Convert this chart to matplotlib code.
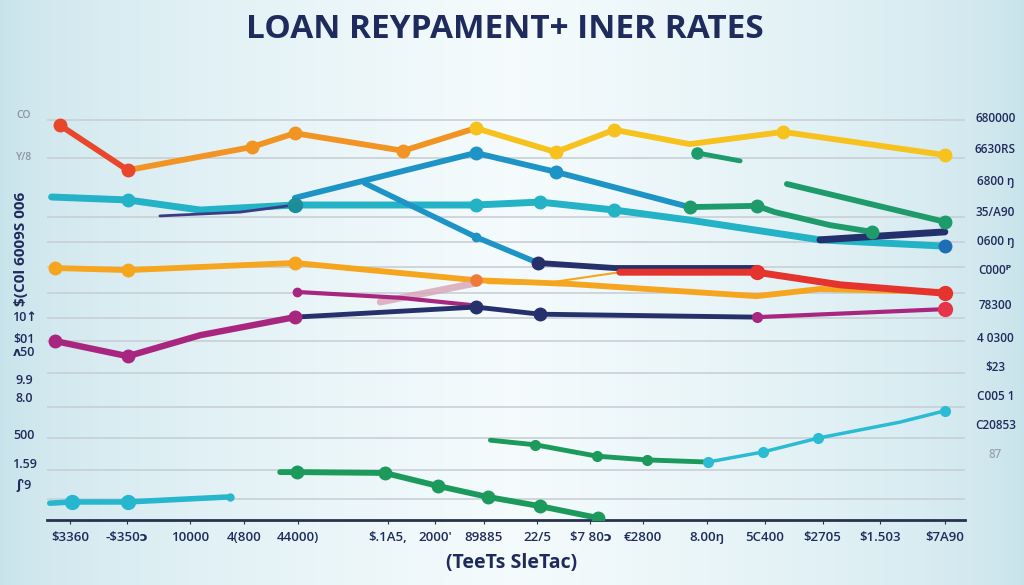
import matplotlib.pyplot as plt
import numpy as np

# ---- data (x: position along axis 0-100, y: rate 0-10) ----
red_x = [1.4, 8.8]
red_y = [9.40, 8.33]
orange_top_x = [8.8, 22.3, 27.0, 38.8, 46.7]
orange_top_y = [8.33, 8.88, 9.21, 8.79, 9.33]
yellow_x = [46.7, 55.4, 61.8, 70.0, 80.2, 97.8]
yellow_y = [9.33, 8.76, 9.29, 8.95, 9.24, 8.69]
green_short_x = [70.8, 75.5]
green_short_y = [8.74, 8.55]

blue_x = [27.0, 46.7, 55.4, 70.0]
blue_y = [7.67, 8.74, 8.29, 7.45]
green_mid_x = [70.0, 77.3, 79.3, 85.3, 89.9]
green_mid_y = [7.45, 7.48, 7.33, 7.02, 6.86]
green_hi_x = [80.6, 97.8]
green_hi_y = [8.00, 7.10]

cyan_x = [0.5, 8.8, 16.7, 27.0, 46.7, 53.7, 61.8, 70.0, 84.2, 97.8]
cyan_y = [7.69, 7.62, 7.38, 7.50, 7.50, 7.57, 7.38, 7.14, 6.67, 6.52]
navy_thin_x = [12.3, 21.0, 27.0]
navy_thin_y = [7.24, 7.33, 7.50]
navy_end_x = [84.2, 97.8]
navy_end_y = [6.67, 6.86]

blue_down_x = [34.6, 46.7, 53.5]
blue_down_y = [8.02, 6.74, 6.12]
navy_mid_x = [53.5, 61.8, 77.3]
navy_mid_y = [6.12, 6.00, 6.00]
red_right_x = [62.4, 77.3, 86.4, 97.8]
red_right_y = [5.90, 5.90, 5.60, 5.40]

orange_low_x = [0.9, 8.8, 27.0, 46.7, 57.0, 77.3, 84.2, 97.8]
orange_low_y = [6.00, 5.95, 6.12, 5.71, 5.62, 5.33, 5.50, 5.43]
orange_thin_x = [48.0, 53.7, 62.4]
orange_thin_y = [5.64, 5.62, 5.90]

magenta_x = [0.9, 8.8, 16.7, 27.0]
magenta_y = [4.26, 3.90, 4.40, 4.83]
navy_low_x = [27.0, 46.7, 53.7, 77.3]
navy_low_y = [4.83, 5.07, 4.90, 4.83]
magenta_r_x = [77.3, 97.8]
magenta_r_y = [4.83, 5.02]
magenta_up_x = [27.2, 38.5, 46.1]
magenta_up_y = [5.43, 5.29, 5.12]
pink_x = [36.3, 46.7]
pink_y = [5.19, 5.64]

green_low_x = [25.4, 27.2, 36.8, 42.6, 48.0, 53.7, 60.0]
green_low_y = [1.14, 1.14, 1.12, 0.81, 0.55, 0.33, 0.05]
green_b_x = [48.3, 53.2, 59.9, 65.4, 72.0]
green_b_y = [1.90, 1.79, 1.52, 1.43, 1.38]
cyan_r_x = [72.0, 78.0, 84.0, 92.9, 97.8]
cyan_r_y = [1.38, 1.62, 1.95, 2.33, 2.60]
cyan_l_x = [0.3, 2.7, 8.8, 19.9]
cyan_l_y = [0.40, 0.43, 0.43, 0.55]

grid_y = [9.52, 8.62, 7.21, 6.62, 6.02, 5.40, 4.81, 4.26, 3.50, 2.69, 1.95, 1.19, 0.50]

xtick_pos = [2.5, 8.7, 15.6, 21.5, 27.3, 37.1, 42.3, 47.6, 53.4, 59.2, 64.9, 71.9, 78.2, 84.5, 90.7, 97.8]
xtick_labels = ["$3360", "-$350ɔ", "10000", "4(800", "44000)", "$.1A5,", "2000'", "89885",
                "22/5", "$7 80ɔ", "€2800", "8.00ŋ", "5C400", "$2705", "$1.503", "$7A90"]

left_pos = [9.64, 8.64, 4.81, 4.29, 4.00, 3.33, 2.90, 2.02, 1.31, 0.83]
left_labels = ["CO", "Y/8", "10↑", "$01", "ʌ50", "9.9", "8.0", "500", "1.59", "ʃ'9"]

right_pos = [9.57, 8.81, 8.07, 7.33, 6.64, 5.93, 5.10, 4.33, 3.64, 2.95, 2.26, 1.55]
right_labels = ["680000", "6630RS", "6800 ŋ", "35/A90", "0600 ŋ", "C000ᴾ", "78300",
                "4 0300", "$23", "C005 1", "C20853", "87"]

NAVY = "#1f2b5c"

fig = plt.figure(figsize=(10.24, 5.85), dpi=100)

# background gradient
bg = fig.add_axes([0, 0, 1, 1])
t = np.linspace(0, 1, 256)
edge = np.array([0.78, 0.89, 0.92])
mid = np.array([0.96, 0.985, 0.99])
w = 1 - np.abs(t - 0.5) * 2
row = edge[None, :] * (1 - w[:, None] ** 0.6) + mid[None, :] * (w[:, None] ** 0.6)
bg.imshow(row[None, :, :], aspect="auto", extent=[0, 1, 0, 1])
bg.axis("off")

ax = fig.add_axes([47 / 1024, 65 / 585, 918 / 1024, 420 / 585])
ax.patch.set_alpha(0)
ax.set_xlim(0, 100)
ax.set_ylim(0, 10)
for s in ["top", "right", "left"]:
    ax.spines[s].set_visible(False)
ax.spines["bottom"].set_color("#27324f")
ax.spines["bottom"].set_linewidth(2)

for gy in grid_y:
    ax.axhline(gy, color="#c9cfd6", lw=1.2, zorder=0)


def line(x, y, color, lw=4.2, marks=None, ms=9, alpha=1.0):
    ax.plot(x, y, color=color, lw=lw, solid_capstyle="round", solid_joinstyle="round",
            alpha=alpha, zorder=2)
    if marks:
        ax.plot([x[i] for i in marks], [y[i] for i in marks], "o", color=color,
                ms=ms, zorder=3, alpha=alpha)


line(orange_top_x, orange_top_y, "#f29424", marks=[1, 2, 3])
line(yellow_x, yellow_y, "#f7c21d", marks=[0, 1, 2, 4, 5])
line(red_x, red_y, "#e8472b", marks=[0, 1])
line(green_short_x, green_short_y, "#1e9b6a", lw=3.5, marks=[0], ms=8)

line(cyan_x, cyan_y, "#23b2c6", lw=5, marks=[1, 4, 5, 6])
line(navy_thin_x, navy_thin_y, "#3b3c86", lw=2)
line(blue_x, blue_y, "#1d93c6", marks=[1, 2])
line(green_mid_x, green_mid_y, "#1e9b6a", marks=[0, 1, 4])
line(green_hi_x, green_hi_y, "#1e9b6a", marks=[1])
line(navy_end_x, navy_end_y, "#24306c", lw=5)
ax.plot(cyan_x[-1], cyan_y[-1], "o", color="#1c6fb5", ms=9, zorder=4)
ax.plot(cyan_x[3], cyan_y[3], "o", color="#1c8e9a", ms=10, zorder=4)

line(blue_down_x, blue_down_y, "#1d93c6", lw=4, marks=[1], ms=6)
line(orange_low_x, orange_low_y, "#f6a51f", marks=[0, 1, 2])
line(orange_thin_x, orange_thin_y, "#f6a51f", lw=1.5)
ax.plot(orange_low_x[3], orange_low_y[3], "o", color="#ef7a3a", ms=8, zorder=4)
line(navy_mid_x, navy_mid_y, "#26306b", marks=[0])
line(red_right_x, red_right_y, "#e5332d", lw=5, marks=[1, 3], ms=10)

line(pink_x, pink_y, "#d8a4b4", lw=5, alpha=0.8)
line(magenta_up_x, magenta_up_y, "#a8267f", lw=3, marks=[0], ms=6)
line(magenta_x, magenta_y, "#a8267f", lw=4.6, marks=[0, 1, 3])
line(navy_low_x, navy_low_y, "#26306b", lw=3.5, marks=[1, 2])
line(magenta_r_x, magenta_r_y, "#a8267f", lw=3, marks=[0], ms=7)
ax.plot(magenta_r_x[-1], magenta_r_y[-1], "o", color="#e6344a", ms=10, zorder=4)

line(green_low_x, green_low_y, "#1c9a5c", marks=[1, 2, 3, 4, 5, 6])
line(green_b_x, green_b_y, "#1c9a5c", lw=3.5, marks=[1, 2, 3], ms=7)
line(cyan_r_x, cyan_r_y, "#2bbbd3", lw=2.5, marks=[0, 1, 2, 4], ms=7)
line(cyan_l_x, cyan_l_y, "#26b7cf", lw=4, marks=[1, 2], ms=10)
ax.plot(cyan_l_x[-1], cyan_l_y[-1], "o", color="#26b7cf", ms=5, zorder=3)

# axis ticks and labels
ax.set_yticks([])
ax.set_xticks(xtick_pos)
ax.set_xticklabels(xtick_labels, fontsize=9.5, color=NAVY, family=["Open Sans", "DejaVu Sans"],
                   fontweight="semibold")
ax.tick_params(axis="x", length=3, color="#27324f", pad=5)

for yv, lab in zip(left_pos, left_labels):
    c = "#8a93a3" if lab in ("CO", "Y/8") else NAVY
    fs = 7.5 if lab in ("CO", "Y/8") else 9
    ax.text(-0.025, yv, lab, transform=ax.get_yaxis_transform(), ha="center", va="center",
            fontsize=fs, color=c, family=["Open Sans", "DejaVu Sans"], fontweight="semibold")
ax.text(-0.028, 6.45, "$(C0l 6009S 006", transform=ax.get_yaxis_transform(), rotation=90,
        ha="center", va="center", fontsize=11, color=NAVY, family=["Open Sans", "DejaVu Sans"],
        fontweight="bold")

for yv, lab in zip(right_pos, right_labels):
    c = "#9aa3b0" if lab == "87" else NAVY
    ax.text(1.033, yv, lab, transform=ax.get_yaxis_transform(), ha="center", va="center",
            fontsize=8.5, color=c, family=["Open Sans", "DejaVu Sans"], fontweight="semibold")

fig.text(0.5, 1 - 563 / 585, "(TeeTs SleTac)", ha="center", va="center", fontsize=14,
         color=NAVY, fontweight="bold", family=["Open Sans", "DejaVu Sans"])
fig.text(0.493, 1 - 29 / 585, "LOAN REYPAMENT+ INER RATES", ha="center", va="center",
         fontsize=24, color=NAVY, fontweight="bold", family=["Open Sans", "DejaVu Sans"])

fig.savefig("out.png", dpi=100)
